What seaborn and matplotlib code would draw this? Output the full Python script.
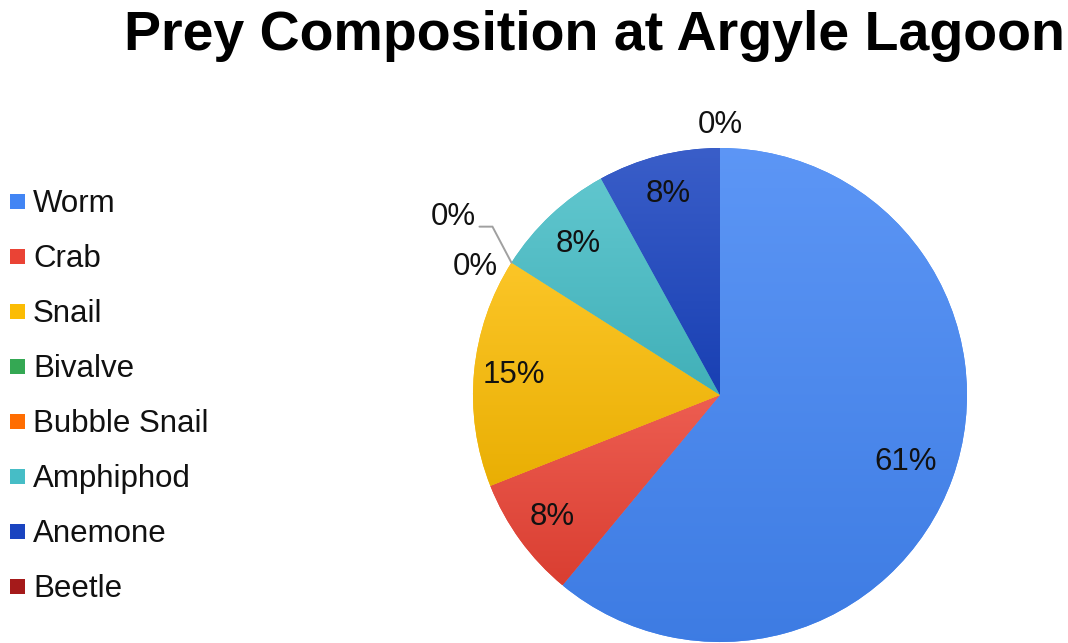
import numpy as np
import matplotlib
matplotlib.use("Agg")
import matplotlib.pyplot as plt
import matplotlib.colors as mcolors
from matplotlib.lines import Line2D
import seaborn as sns

sns.set_theme(style="white")
plt.rcParams["font.family"] = ["Liberation Sans", "DejaVu Sans"]

# Prey items recorded at the lagoon (percent of total)
prey = ["Worm", "Crab", "Snail", "Bivalve", "Bubble Snail", "Amphiphod", "Anemone", "Beetle"]
share = [61, 8, 15, 0, 0, 8, 8, 0]
palette = ["#4285F4", "#EA4335", "#FBBC04", "#34A853", "#FF6D01", "#46BDC6", "#1A44C0", "#A51A1A"]

W, H, DPI = 1068, 643, 100
fig = plt.figure(figsize=(W / DPI, H / DPI), dpi=DPI)

# pie axes: centre (720, 395) px, radius 247 px, limits +-1.25
R_PX = 247
PX = 1.0 / R_PX  # one pixel in data units
span = 2.5 * R_PX
cx, cy = 720, H - 395
ax = fig.add_axes([(cx - span / 2) / W, (cy - span / 2) / H, span / W, span / H])

wedges, _ = ax.pie(share, colors=palette, startangle=90, counterclock=False,
                   radius=1.0, wedgeprops=dict(linewidth=0))
ax.set_aspect("equal")
ax.axis("off")


def shade(color, amount):
    """Lighten (amount>0) or darken (amount<0) a colour."""
    rgb = np.array(mcolors.to_rgb(color))
    if amount > 0:
        return rgb + (1 - rgb) * amount
    return rgb * (1 + amount)


# vertical gradient inside each wedge: lighter at its top, deeper at its bottom
for w, col in zip(wedges, palette):
    if w.theta2 - w.theta1 <= 0:
        continue
    verts = w.get_path().vertices
    y0, y1 = verts[:, 1].min(), verts[:, 1].max()
    x0, x1 = verts[:, 0].min(), verts[:, 0].max()
    top, bot = shade(col, 0.14), shade(col, -0.07)
    t = np.linspace(0, 1, 256)[:, None]
    grad = (bot[None, :] * (1 - t) + top[None, :] * t)[:, None, :]
    im = ax.imshow(grad, extent=[x0, x1, y0, y1], origin="lower",
                   aspect="auto", interpolation="bilinear", zorder=w.get_zorder() + 0.1)
    im.set_clip_path(w)
ax.set_xlim(-1.25, 1.25)
ax.set_ylim(-1.25, 1.25)

# percentage labels
FS = 22.5
label_kw = dict(fontsize=FS, color="#111111", zorder=10)
zero_seen = 0
for w, val in zip(wedges, share):
    mid = np.deg2rad((w.theta1 + w.theta2) / 2)
    ex, ey = np.cos(mid), np.sin(mid)
    if val > 0:
        d = 0.8 if val > 50 else 0.84
        ax.text(d * ex, d * ey, f"{val}%", ha="center", va="center", **label_kw)
    elif ey > 0.9:
        # empty slice at the top of the pie
        ax.text(ex, ey + 23 * PX, f"{val}%", ha="center", va="center", **label_kw)
    elif zero_seen == 0:
        ax.text(ex - 14 * PX, ey - 4 * PX, f"{val}%", ha="right", va="center", **label_kw)
        zero_seen += 1
    else:
        # second empty slice at the same spot: pulled out with a leader line
        elbow = (ex - 19 * PX, ey + 36 * PX)
        end = (elbow[0] - 13 * PX, elbow[1])
        ax.plot([ex, elbow[0], end[0]], [ey, elbow[1], end[1]], color="#A0A0A0",
                lw=1.4, solid_joinstyle="miter", zorder=9)
        ax.text(end[0] - 4 * PX, end[1] + 10 * PX, f"{val}%", ha="right", va="center", **label_kw)
        zero_seen += 1

# legend on the left
handles = [Line2D([0], [0], marker="s", linestyle="none", markersize=10.8,
                  markerfacecolor=c, markeredgewidth=0) for c in palette]
fig.legend(handles, prey, loc="upper left", bbox_to_anchor=(9 / W, 1 - 189 / H),
           frameon=False, fontsize=FS, labelspacing=0.80, handlelength=0.5,
           handletextpad=0.27, borderpad=0, borderaxespad=0, labelcolor="#111111")

fig.text(594 / W, 1 - 36 / H, "Prey Composition at Argyle Lagoon", ha="center", va="center",
         fontsize=40, fontweight="bold", color="#000000")

fig.savefig("out.png", dpi=DPI)
